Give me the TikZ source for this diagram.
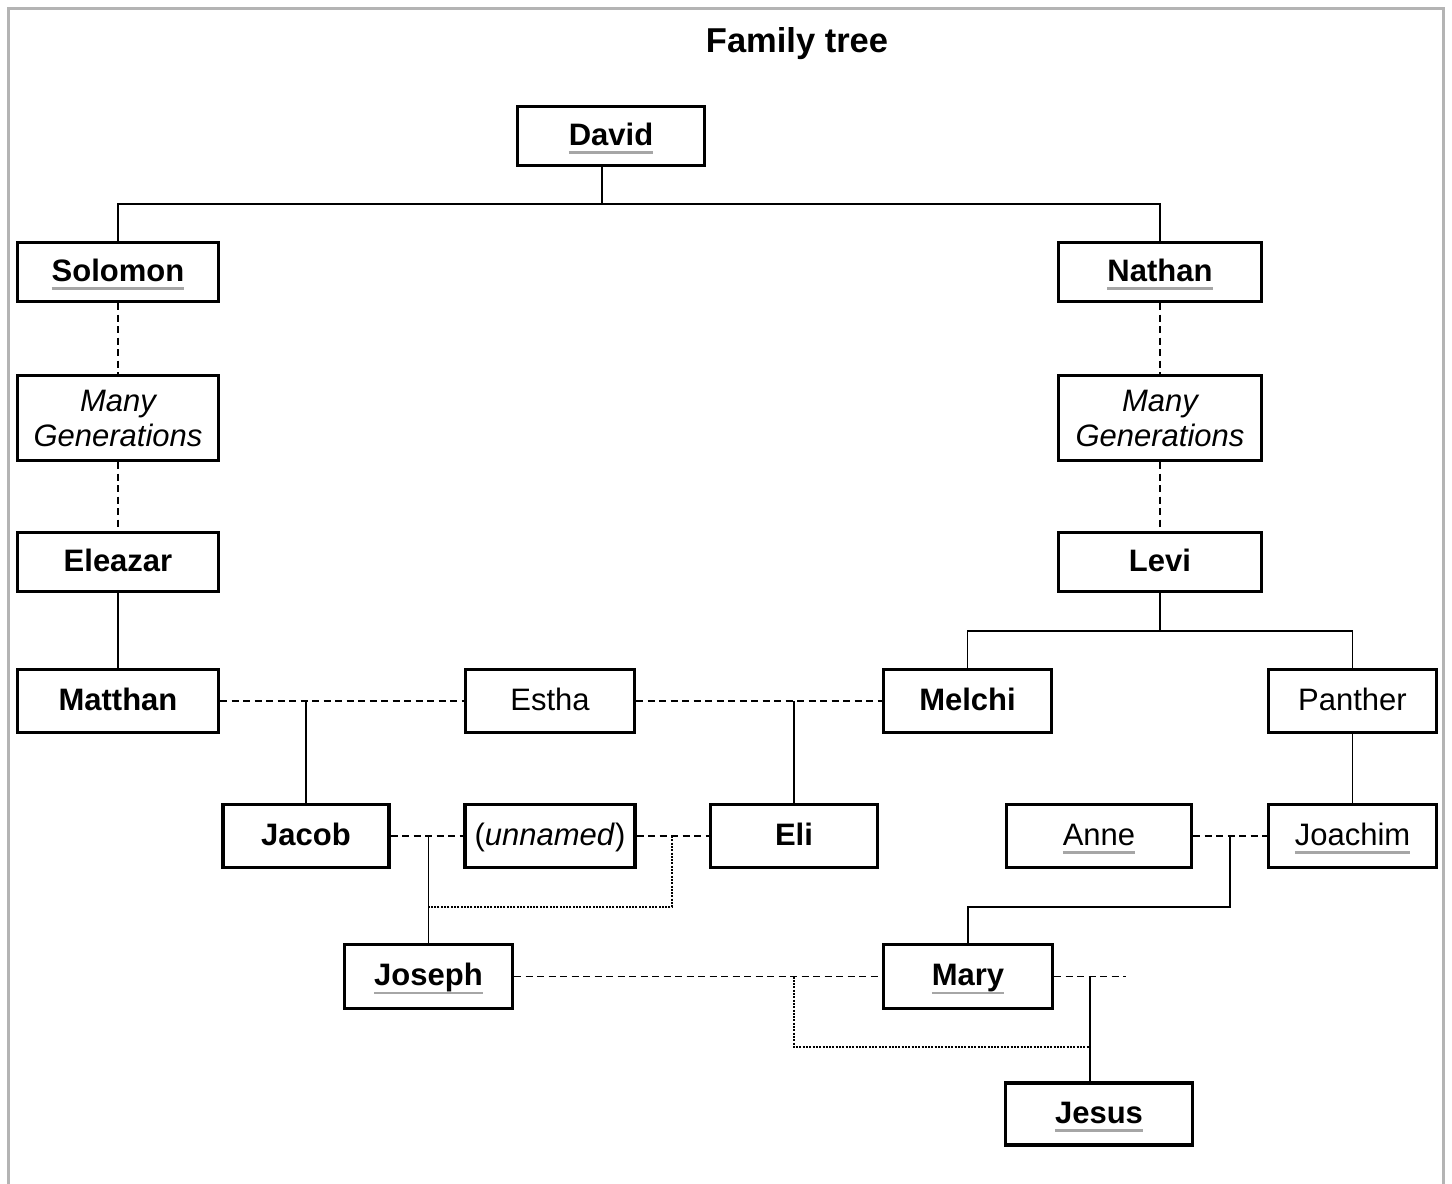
\documentclass[tikz,border=0pt]{standalone}
\usepackage{fontspec}
\setmainfont{Liberation Sans}
\definecolor{ulgray}{HTML}{A6A6A6}
\definecolor{framegray}{HTML}{B4B4B4}
\newcommand\gul[1]{\setbox0\hbox{#1}\rlap{\smash{\color{ulgray}\rule[-8.5pt]{\wd0}{2.2pt}}}\box0}
\tikzset{
  person/.style={draw, line width=3.2pt, inner sep=0pt, text height=18pt, text depth=0pt,
     font=\fontsize{31}{37}\selectfont, align=center},
  bperson/.style={person, font=\fontsize{31}{37}\selectfont\bfseries},
  conn/.style={line width=1.6pt},
  dashline/.style={line width=1.4pt, dash pattern=on 7pt off 4.5pt},
  dotline/.style={line width=1.6pt, dash pattern=on 2pt off 1.3pt},
}
\begin{document}
\begin{tikzpicture}[x=1pt,y=-1pt]
\useasboundingbox[fill=white] (0,0) rectangle (1452,1184);
\draw[framegray, line width=2.5pt] (8.5,1190) -- (8.5,8.5) -- (1443.5,8.5) -- (1443.5,1190);
\node[font=\fontsize{34.5}{40}\selectfont\bfseries] (title) at (797,44) {Family tree};
% nodes
\node[bperson, minimum width=187pt, minimum height=59pt] (David) at (611,136) {\gul{David}};
\node[bperson, minimum width=201pt, minimum height=59pt] (Solomon) at (118,272) {\gul{Solomon}};
\node[bperson, minimum width=203pt, minimum height=59pt] (Nathan) at (1160,272) {\gul{Nathan}};
\node[person, minimum width=201pt, minimum height=85pt, text height=, text depth=] (mgA) at (118,418) {\itshape Many\\[-2pt]\itshape Generations};
\node[person, minimum width=203pt, minimum height=85pt, text height=, text depth=] (mgB) at (1160,418) {\itshape Many\\[-2pt]\itshape Generations};
\node[bperson, minimum width=201pt, minimum height=59pt] (Eleazar) at (118,562) {Eleazar};
\node[bperson, minimum width=203pt, minimum height=59pt] (Levi) at (1160,562) {Levi};
\node[bperson, minimum width=201pt, minimum height=63pt] (Matthan) at (118,701) {Matthan};
\node[person, minimum width=169pt, minimum height=63pt] (Estha) at (550,701) {Estha};
\node[bperson, minimum width=168pt, minimum height=63pt] (Melchi) at (967.5,701) {Melchi};
\node[person, minimum width=168pt, minimum height=63pt] (Panther) at (1352.5,701) {Panther};
\node[bperson, minimum width=166pt, minimum height=63pt] (Jacob) at (306,836) {Jacob};
\node[person, minimum width=170pt, minimum height=63pt] (unnamed) at (550,836) {(\textit{unnamed})};
\node[bperson, minimum width=167pt, minimum height=63pt] (Eli) at (794,836) {Eli};
\node[person, minimum width=185pt, minimum height=63pt] (Anne) at (1099,836) {\gul{Anne}};
\node[person, minimum width=168pt, minimum height=63pt] (Joachim) at (1352.5,836) {\gul{Joachim}};
\node[bperson, minimum width=168pt, minimum height=64pt] (Joseph) at (428.5,976.5) {\gul{Joseph}};
\node[bperson, minimum width=169pt, minimum height=64pt] (Mary) at (968,976.5) {\gul{Mary}};
\node[bperson, minimum width=187pt, minimum height=62pt] (Jesus) at (1099,1114) {\gul{Jesus}};
% junction coordinates
\coordinate (dj) at (602,204);
\coordinate (lj) at (1160,631);
\coordinate (ue) at (672,836);
\coordinate (ud) at (672,907);
\coordinate (aj) at (1230,836);
\coordinate (am) at (1230,907);
\coordinate (jm) at (794,976.5);
\coordinate (jmd) at (794,1047);
\coordinate (mj) at (1090,976.5);
\coordinate (mend) at (1126,976.5);
% David's children
\draw[conn] (David.south -| dj) -- (dj);
\draw[conn] (Solomon.north) -- (Solomon.north |- dj) -- (Nathan.north |- dj) -- (Nathan.north);
% generations
\draw[dashline] (Solomon.south) -- (mgA.north);
\draw[dashline] (mgA.south) -- (Eleazar.north);
\draw[conn] (Eleazar.south) -- (Matthan.north);
\draw[dashline] (Nathan.south) -- (mgB.north);
\draw[dashline] (mgB.south) -- (Levi.north);
\draw[conn] (Levi.south) -- (lj);
\draw[conn] (Melchi.north) -- (Melchi.north |- lj) -- (Panther.north |- lj) -- (Panther.north);
% marriages and children
\draw[dashline] (Matthan.east) -- (Estha.west);
\draw[conn] (Jacob.north) -- (Jacob.north |- Matthan.east);
\draw[dashline] (Estha.east) -- (Melchi.west);
\draw[conn] (Eli.north) -- (Eli.north |- Estha.east);
\draw[conn] (Panther.south) -- (Joachim.north);
\draw[dashline] (Jacob.east) -- (unnamed.west);
\draw[conn] (Joseph.north) -- (Joseph.north |- Jacob.east);
\draw[dashline] (unnamed.east) -- (Eli.west);
\draw[dotline] (ue) -- (ud) -- (ud -| Joseph.north);
\draw[dashline] (Anne.east) -- (Joachim.west);
\draw[conn] (aj) -- (am) -- (am -| Mary.north) -- (Mary.north);
\draw[dashline] (Joseph.east) -- (Mary.west);
\draw[dotline] (jm) -- (jmd) -- (jmd -| mj);
\draw[dashline] (Mary.east) -- (mend);
\draw[conn] (mj) -- (mj |- Jesus.north);
\end{tikzpicture}
\end{document}
